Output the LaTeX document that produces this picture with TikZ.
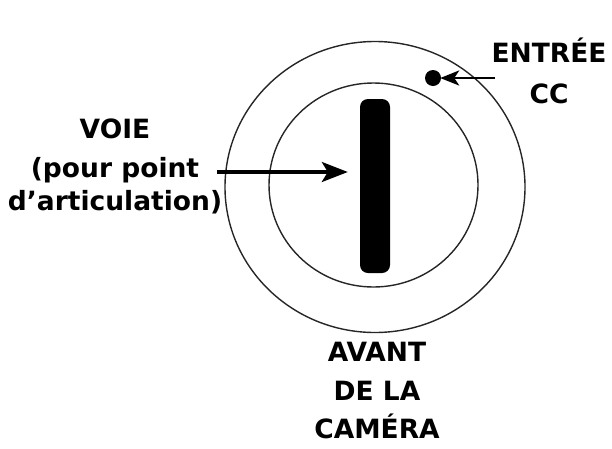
\documentclass[tikz,border=0pt]{standalone}
\usepackage{fontspec}
\setmainfont{DejaVu Sans}
\usetikzlibrary{arrows.meta,shapes.geometric}
\begin{document}
\begin{tikzpicture}[x=1pt,y=-1pt,
  lbl/.style={font=\fontsize{26.5}{33}\selectfont\bfseries, align=center, inner sep=0pt},
  ring/.style={draw=black!85, line width=1.4pt, ellipse, inner sep=0pt},
  ptr/.style={line width=3.3pt, -{Stealth[length=26pt,width=20pt,inset=6pt]}},
  ptrsmall/.style={line width=2.8pt, -{Stealth[length=19pt,width=15pt,inset=5pt]}}]
\useasboundingbox (0,0) rectangle (612,448);
\node[ring, minimum width=300pt, minimum height=291pt] (outer) at (375,187) {};
\node[ring, minimum width=209pt, minimum height=204pt] (inner) at (373.5,185) {};
\node[fill=black, rounded corners=8pt, minimum width=30pt, minimum height=174pt, inner sep=0pt] (bar) at (375,186) {};
\node[circle, fill=black, minimum size=16pt, inner sep=0pt] (dc) at (433,78) {};
\node[lbl, anchor=north] (voie) at (115,119) {VOIE\\[6pt](pour point\\d’articulation)};
\node[lbl, anchor=north, font=\fontsize{26.5}{41}\selectfont\bfseries] (entree) at (549,38) {ENTRÉE\\CC};
\node[lbl, anchor=north, font=\fontsize{26.5}{38.5}\selectfont\bfseries] (avant) at (377,342) {AVANT\\DE LA\\CAMÉRA};
\coordinate (vs) at (217,172);
\coordinate (cs) at (495,78);
\draw[ptr] (vs) -- ([xshift=-12pt]bar.west |- vs);
\draw[ptrsmall] (cs) -- ([xshift=-1pt]dc.east);
\end{tikzpicture}
\end{document}
